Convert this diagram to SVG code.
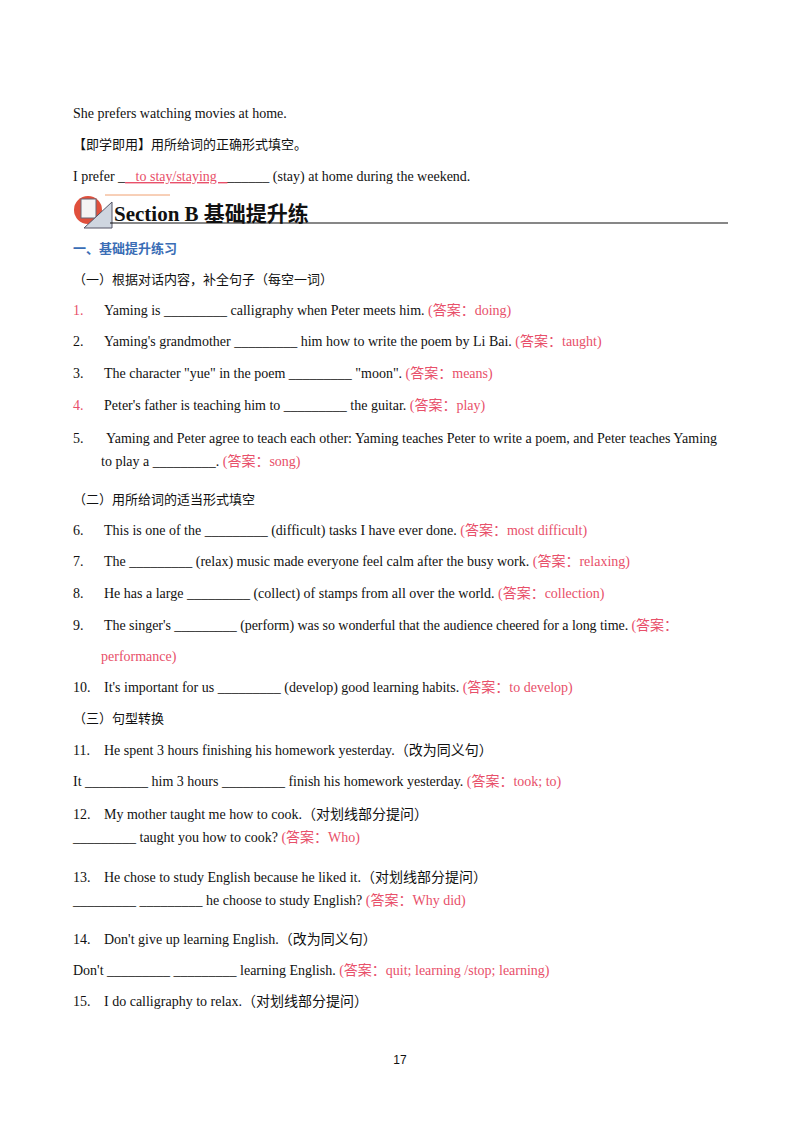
<svg xmlns="http://www.w3.org/2000/svg" width="800" height="1132" viewBox="0 0 800 1132">
<style>
text{font-family:"Liberation Serif","Noto Sans CJK SC",serif;font-size:14px;fill:#111}
.r{fill:#e8506a}
.cn{font-family:"Noto Sans CJK SC",sans-serif;font-size:13px}
.b{fill:#3a6db5;font-family:"Noto Sans CJK SC",sans-serif;font-size:13px;font-weight:bold}
</style>
<rect width="800" height="1132" fill="#fff"/>
<g id="top">
<text x="73" y="118">She prefers watching movies at home.</text>
<text x="73" y="149" class="cn">【即学即用】用所给词的正确形式填空。</text>
<text x="73" y="181">I prefer _<tspan class="r" text-decoration="underline">_ to stay/staying _</tspan>______ (stay) at home during the weekend.</text>
</g>
<g id="section">
<line x1="105" y1="195" x2="170" y2="195" stroke="#f0a070" stroke-width="1"/>
<circle cx="88" cy="210" r="14" fill="#e0503c"/>
<rect x="81" y="199" width="15" height="19" fill="#f4f4f4" stroke="#667" stroke-width="1"/>
<polygon points="84,228 112,202 112,228" fill="#cfd6e0" stroke="#556" stroke-width="1"/>
<text x="114" y="221" style="font-size:21px;font-weight:bold">Section B 基础提升练</text>
<line x1="110" y1="223" x2="728" y2="223" stroke="#111" stroke-width="1.2"/>
<text x="73" y="253" class="b">一、基础提升练习</text>
</g>
<g id="q1">
<text x="73" y="284" class="cn">（一）根据对话内容，补全句子（每空一词）</text>
<text x="73" y="315" class="r">1.</text><text x="104" y="315">Yaming is _________ calligraphy when Peter meets him. <tspan class="r">(答案：doing)</tspan></text>
<text x="73" y="346">2.</text><text x="104" y="346">Yaming's grandmother _________ him how to write the poem by Li Bai. <tspan class="r">(答案：taught)</tspan></text>
<text x="73" y="378">3.</text><text x="104" y="378">The character "yue" in the poem _________ "moon". <tspan class="r">(答案：means)</tspan></text>
<text x="73" y="410" class="r">4.</text><text x="104" y="410">Peter's father is teaching him to _________ the guitar. <tspan class="r">(答案：play)</tspan></text>
<text x="73" y="443">5.</text><text x="106" y="443" textLength="611">Yaming and Peter agree to teach each other: Yaming teaches Peter to write a poem, and Peter teaches Yaming</text>
<text x="101" y="466">to play a _________. <tspan class="r">(答案：song)</tspan></text>
</g>
<g id="q2">
<text x="73" y="504" class="cn">（二）用所给词的适当形式填空</text>
<text x="73" y="535">6.</text><text x="104" y="535">This is one of the _________ (difficult) tasks I have ever done. <tspan class="r">(答案：most difficult)</tspan></text>
<text x="73" y="566">7.</text><text x="104" y="566">The _________ (relax) music made everyone feel calm after the busy work. <tspan class="r">(答案：relaxing)</tspan></text>
<text x="73" y="598">8.</text><text x="104" y="598">He has a large _________ (collect) of stamps from all over the world. <tspan class="r">(答案：collection)</tspan></text>
<text x="73" y="630">9.</text><text x="104" y="630" textLength="574">The singer's _________ (perform) was so wonderful that the audience cheered for a long time. <tspan class="r">(答案：</tspan></text>
<text x="101" y="661" class="r">performance)</text>
<text x="73" y="692">10.</text><text x="104" y="692">It's important for us _________ (develop) good learning habits. <tspan class="r">(答案：to develop)</tspan></text>
</g>
<g id="q3">
<text x="73" y="723" class="cn">（三）句型转换</text>
<text x="73" y="755">11.</text><text x="104" y="755">He spent 3 hours finishing his homework yesterday.（改为同义句）</text>
<text x="73" y="786">It _________ him 3 hours _________ finish his homework yesterday. <tspan class="r">(答案：took; to)</tspan></text>
<text x="73" y="819">12.</text><text x="104" y="819">My mother taught me how to cook.（对划线部分提问）</text>
<text x="73" y="842">_________ taught you how to cook? <tspan class="r">(答案：Who)</tspan></text>
<text x="73" y="882">13.</text><text x="104" y="882">He chose to study English because he liked it.（对划线部分提问）</text>
<text x="73" y="905">_________ _________ he choose to study English? <tspan class="r">(答案：Why did)</tspan></text>
<text x="73" y="944">14.</text><text x="104" y="944">Don't give up learning English.（改为同义句）</text>
<text x="73" y="975">Don't _________ _________ learning English. <tspan class="r">(答案：quit; learning /stop; learning)</tspan></text>
<text x="73" y="1006">15.</text><text x="104" y="1006">I do calligraphy to relax.（对划线部分提问）</text>
<text x="400" y="1064" text-anchor="middle" style="font-family:'Liberation Sans',sans-serif;font-size:12px">17</text>
</g>
</svg>
